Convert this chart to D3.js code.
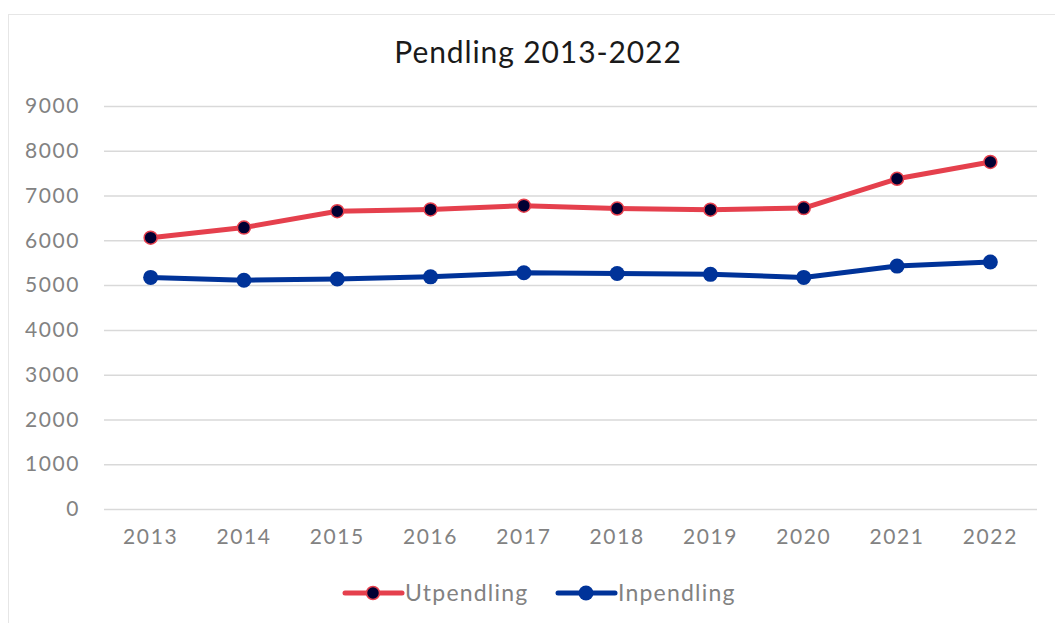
<!DOCTYPE html>
<html><head><meta charset="utf-8">
<script src="https://cdn.jsdelivr.net/npm/d3@7"></script>
<style>body{margin:0;background:#fff}svg{display:block}</style>
</head><body><svg id="c" width="1055" height="623"></svg>
<script>
const years = ["2013","2014","2015","2016","2017","2018","2019","2020","2021","2022"];
const utpendling = [6060,6285,6650,6690,6775,6710,6685,6720,7375,7750];
const inpendling = [5172,5110,5135,5185,5275,5260,5240,5172,5425,5515];
const yTicks = [0,1000,2000,3000,4000,5000,6000,7000,8000,9000];
const title = "Pendling 2013-2022";

const svg = d3.select("#c");
const font = "Lato, 'Open Sans', sans-serif";
svg.append("rect").attr("x",8.5).attr("y",14.5).attr("width",1060).attr("height",620)
  .attr("fill","#fff").attr("stroke","#e6e6e6").attr("stroke-width",1);

const L=104, R=1037, T=106, B=509;
const x = d3.scaleBand().domain(years).range([L,R]);
const y = d3.scaleLinear().domain([0,9000]).range([B,T]);

svg.append("text").attr("x",538).attr("y",63).attr("text-anchor","middle")
  .attr("font-family",font).attr("font-size",30).attr("letter-spacing",0.9).attr("fill","#1a1a1a").text(title);

const gy = svg.append("g").attr("transform",`translate(${L},0)`)
  .call(d3.axisLeft(y).tickValues(yTicks).tickSize(-(R-L)).tickPadding(24).tickFormat(d3.format("d")));
gy.select(".domain").remove();
gy.selectAll(".tick line").attr("stroke","#d9d9d9").attr("stroke-width",1.5);
gy.selectAll(".tick text").attr("font-family",font).attr("font-size",21).attr("fill","#828282").attr("letter-spacing",1.6);

const gx = svg.append("g").attr("transform",`translate(0,${B})`)
  .call(d3.axisBottom(x).tickSize(0).tickPadding(20));
gx.select(".domain").remove();
gx.selectAll(".tick text").attr("font-family",font).attr("font-size",21).attr("fill","#828282").attr("letter-spacing",1.6);

const series = [
  {name:"Utpendling", values:utpendling, color:"#e5404d", fill:"#000033", r:6.5, sw:1.5},
  {name:"Inpendling", values:inpendling, color:"#003399", fill:"#003399", r:7.5, sw:0}
];
const line = d3.line().x((d,i)=>x(years[i])+x.bandwidth()/2).y(d=>y(d));
series.forEach(s=>{
  svg.append("path").datum(s.values).attr("d",line).attr("fill","none")
    .attr("stroke",s.color).attr("stroke-width",5).attr("stroke-linejoin","round");
  svg.selectAll(null).data(s.values).enter().append("circle")
    .attr("cx",(d,i)=>x(years[i])+x.bandwidth()/2).attr("cy",d=>y(d))
    .attr("r",s.r).attr("fill",s.fill).attr("stroke",s.color).attr("stroke-width",s.sw);
});

const legX = [345, 558];
series.forEach((s,i)=>{
  const g = svg.append("g").attr("transform",`translate(${legX[i]},593)`);
  g.append("line").attr("x1",0).attr("x2",57).attr("stroke",s.color).attr("stroke-width",5).attr("stroke-linecap","round");
  g.append("circle").attr("cx",28).attr("r",s.r).attr("fill",s.fill).attr("stroke",s.color).attr("stroke-width",s.sw);
  g.append("text").attr("x",60).attr("y",8).attr("font-family",font).attr("font-size",23)
    .attr("fill","#828282").attr("letter-spacing",1.2).text(s.name);
});
</script></body></html>
